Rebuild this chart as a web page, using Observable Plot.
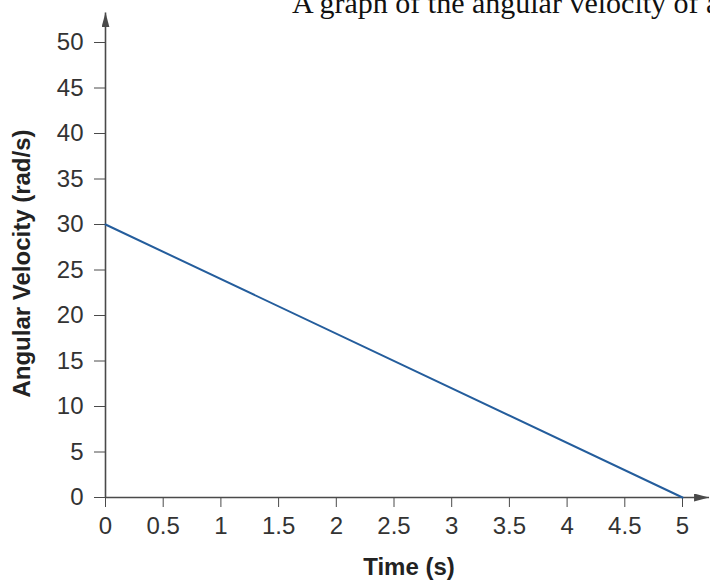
<!DOCTYPE html>
<html>
<head>
<meta charset="utf-8">
<script src="https://cdn.jsdelivr.net/npm/d3@7"></script>
<script src="https://cdn.jsdelivr.net/npm/@observablehq/plot@0.6"></script>
<style>
  html, body { margin: 0; padding: 0; background: #fff; overflow: hidden; }
  #wrap { position: relative; width: 710px; height: 583px; overflow: hidden; }
  #title { position: absolute; left: 292px; top: -11.5px; font-family: "Liberation Serif", "Times New Roman", serif; font-size: 30px; line-height: 28px; white-space: nowrap; color: #111; }
  #chart { position: absolute; left: 0; top: 0; }
</style>
</head>
<body>
<div id="wrap">
  <div id="chart"></div>
  <div id="title">A graph of the angular velocity of a</div>
</div>
<script>
// Data
const timeS = [0, 5];
const angularVelocity = [30, 0];
const xTicks = [0, 0.5, 1, 1.5, 2, 2.5, 3, 3.5, 4, 4.5, 5];
const xTickLabels = ["0", "0.5", "1", "1.5", "2", "2.5", "3", "3.5", "4", "4.5", "5"];
const yTicks = [0, 5, 10, 15, 20, 25, 30, 35, 40, 45, 50];
const xAxisExtent = [0, 5.23];   // x axis drawn a little past 5, ending in an arrow
const yAxisExtent = [0, 53.3];   // y axis drawn a little past 50, ending in an arrow
const xLabel = "Time (s)";
const yLabel = "Angular Velocity (rad/s)";

const series = timeS.map((t, i) => ({t, w: angularVelocity[i]}));
const axisColor = "#4a4a4a";
const lineColor = "#245d9c";

function filledArrow(color) {
  const ns = "http://www.w3.org/2000/svg";
  const m = document.createElementNS(ns, "marker");
  m.setAttribute("viewBox", "-15 -4 15 8");
  m.setAttribute("markerWidth", "15");
  m.setAttribute("markerHeight", "8");
  m.setAttribute("markerUnits", "userSpaceOnUse");
  m.setAttribute("orient", "auto");
  m.setAttribute("refX", "0");
  m.setAttribute("refY", "0");
  m.setAttribute("fill", color);
  m.setAttribute("stroke", "none");
  const p = document.createElementNS(ns, "path");
  p.setAttribute("d", "M-15,-4L0,0L-15,4Z");
  m.appendChild(p);
  return m;
}

function build(marker) {
  return Plot.plot({
    width: 710,
    height: 583,
    marginLeft: 105,
    marginRight: 28,
    marginTop: 42,
    marginBottom: 86,
    style: {fontFamily: "'Liberation Sans', Arial, sans-serif", fontSize: "24px", color: "#333", background: "white", overflow: "visible"},
    x: {domain: [0, 5], label: null},
    y: {domain: [0, 50], label: null},
    marks: [
      Plot.axisX({ticks: xTicks, tickFormat: (d) => xTickLabels[xTicks.indexOf(d)], tickSize: 10, tickPadding: 9, stroke: axisColor, fill: "#333", label: null, fontSize: 24}),
      Plot.axisY({ticks: yTicks, tickSize: 11, tickPadding: 11, stroke: axisColor, fill: "#333", label: null, fontSize: 24}),
      Plot.link([0], {x1: () => xAxisExtent[0], x2: () => xAxisExtent[1], y1: () => 0, y2: () => 0, stroke: axisColor, strokeWidth: 1.6, markerEnd: marker}),
      Plot.link([0], {x1: () => 0, x2: () => 0, y1: () => yAxisExtent[0], y2: () => yAxisExtent[1], stroke: axisColor, strokeWidth: 1.6, markerEnd: marker}),
      Plot.line(series, {x: "t", y: "w", stroke: lineColor, strokeWidth: 2}),
      Plot.text([xLabel], {frameAnchor: "bottom", dy: 77, dx: 15, fontWeight: "bold", fontSize: 24, fill: "#222"}),
      Plot.text([yLabel], {frameAnchor: "left", textAnchor: "middle", rotate: -90, dx: -83, dy: -6.5, fontWeight: "bold", fontSize: 24, fill: "#222"})
    ]
  });
}

let chart;
try {
  chart = build(filledArrow);
} catch (e) {
  chart = build("arrow");
}
document.getElementById("chart").appendChild(chart);
</script>
</body>
</html>
